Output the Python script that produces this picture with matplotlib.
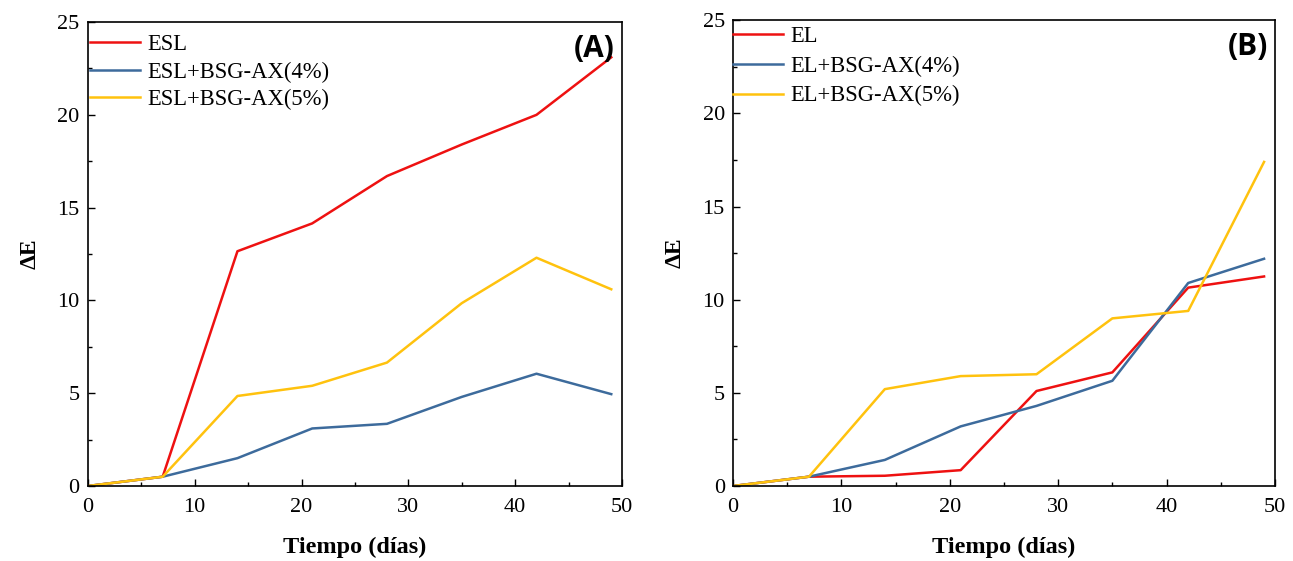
import numpy as np
import matplotlib.pyplot as plt
from matplotlib.ticker import MultipleLocator

plt.rcParams['font.family'] = ['Liberation Serif', 'DejaVu Serif']

# days
dias = [0, 7, 14, 21, 28, 35, 42, 49]

# panel A
esl = [0, 0.5, 12.65, 14.15, 16.7, 18.4, 20.0, 23.1]
esl_4 = [0, 0.5, 1.5, 3.1, 3.35, 4.8, 6.05, 4.95]
esl_5 = [0, 0.5, 4.85, 5.4, 6.65, 9.85, 12.3, 10.6]

# panel B
el = [0, 0.5, 0.55, 0.85, 5.1, 6.1, 10.65, 11.25]
el_4 = [0, 0.5, 1.4, 3.2, 4.3, 5.65, 10.9, 12.2]
el_5 = [0, 0.5, 5.2, 5.9, 6.0, 9.0, 9.4, 17.4]

rojo = '#ee1111'
azul = '#3d6b9c'
amarillo = '#ffc20e'

fig = plt.figure(figsize=(12.93, 5.61), dpi=100)
ax1 = fig.add_axes([0.068, 0.1337, 0.413, 0.827])
ax2 = fig.add_axes([0.567, 0.1337, 0.419, 0.830])

paneles = [
    (ax1, [esl, esl_4, esl_5], ['ESL', 'ESL+BSG-AX(4%)', 'ESL+BSG-AX(5%)'], '(A)', (0.004, 0.974), 0.28),
    (ax2, [el, el_4, el_5], ['EL', 'EL+BSG-AX(4%)', 'EL+BSG-AX(5%)'], '(B)', (0.0, 0.987), 0.37),
]

for ax, series, nombres, letra, anc, esp in paneles:
    for y, c, n in zip(series, [rojo, azul, amarillo], nombres):
        ax.plot(dias, y, color=c, lw=1.8, label=n)
    ax.set_xlim(0, 50)
    ax.set_ylim(0, 25)
    ax.xaxis.set_major_locator(MultipleLocator(10))
    ax.xaxis.set_minor_locator(MultipleLocator(5))
    ax.yaxis.set_major_locator(MultipleLocator(5))
    ax.yaxis.set_minor_locator(MultipleLocator(2.5))
    ax.tick_params(which='both', direction='in', top=False, right=False, labelsize=16)
    ax.tick_params(which='major', length=5, width=1)
    ax.tick_params(which='minor', length=3, width=1)
    ax.tick_params(axis='x', pad=9)
    ax.tick_params(axis='y', pad=6)
    for s in ax.spines.values():
        s.set_linewidth(1.2)
    ax.set_xlabel('Tiempo (días)', fontsize=17.5, fontweight='bold', labelpad=14)
    ax.set_ylabel('ΔE', fontsize=17, fontweight='bold', labelpad=12)
    ax.legend(loc='upper left', bbox_to_anchor=anc, frameon=False, fontsize=16.3,
              handlelength=2.2, borderpad=0, borderaxespad=0, handletextpad=0.35,
              labelspacing=esp)
    ax.text(0.987, 0.975, letra, transform=ax.transAxes, ha='right', va='top',
            fontsize=21.5, fontweight='bold', family='Open Sans')

plt.savefig('out.png', dpi=100)
